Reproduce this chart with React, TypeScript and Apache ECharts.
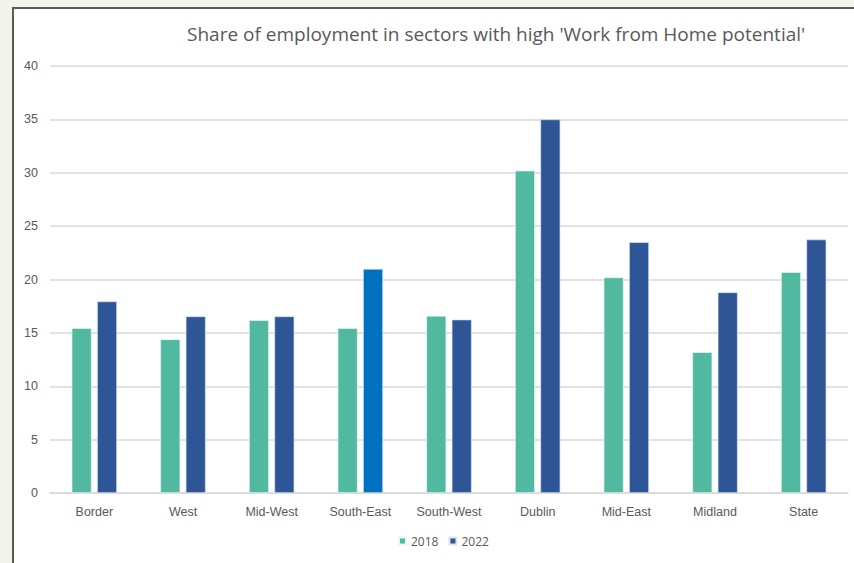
import React, { useEffect, useRef } from "react";
import * as echarts from "echarts";

const categories = ["Border", "West", "Mid-West", "South-East", "South-West", "Dublin", "Mid-East", "Midland", "State"];
const values2018 = [15.45, 14.4, 16.2, 15.45, 16.6, 30.2, 20.2, 13.2, 20.7];
const values2022 = [17.95, 16.55, 16.55, 21.0, 16.25, 35.0, 23.5, 18.8, 23.75];
const highlightIndex = 3;
const seriesNames = ["2018", "2022"];
const titleText = "Share of employment in sectors with high 'Work from Home potential'";

const FONT = "'Liberation Sans', sans-serif";
const TITLE_FONT = "'Open Sans', sans-serif";

export default function App() {
  const ref = useRef<HTMLDivElement>(null);
  useEffect(() => {
    if (!ref.current) return;
    const chart = echarts.init(ref.current, null, { renderer: "svg" });
    chart.setOption({
      animation: false,
      backgroundColor: "#ffffff",
      title: {
        text: titleText,
        left: 173,
        top: 15,
        padding: 0,
        textStyle: { fontFamily: TITLE_FONT, fontSize: 19, fontWeight: "normal", color: "#595959" },
      },
      legend: {
        data: seriesNames,
        left: 379,
        bottom: 11,
        itemWidth: 7,
        itemHeight: 7,
        itemGap: 10,
        icon: "rect",
        textStyle: { fontFamily: "'Open Sans', sans-serif", fontSize: 12, color: "#595959" },
      },
      grid: { left: 36, right: 6, top: 57, bottom: 70, containLabel: false },
      xAxis: {
        type: "category",
        data: categories,
        axisLine: { lineStyle: { color: "#d9d9d9", width: 1.5 } },
        axisTick: { show: false },
        axisLabel: { fontFamily: FONT, fontSize: 12.5, color: "#595959", margin: 12 },
      },
      yAxis: {
        type: "value",
        min: 0,
        max: 40,
        interval: 5,
        axisLine: { show: false },
        axisTick: { show: false },
        splitLine: { lineStyle: { color: "#d9d9d9", width: 1.5 } },
        axisLabel: { fontFamily: FONT, fontSize: 12.5, color: "#595959", margin: 12 },
      },
      series: [
        {
          name: seriesNames[0],
          type: "bar",
          data: values2018,
          barWidth: 20,
          barGap: "27%",
          itemStyle: { color: "#50b9a0", borderColor: "#e8f6f2", borderWidth: 0.7 },
        },
        {
          name: seriesNames[1],
          type: "bar",
          data: values2022.map((v, i) =>
            i === highlightIndex ? { value: v, itemStyle: { color: "#0070c0" } } : v
          ),
          barWidth: 20,
          itemStyle: { color: "#2e5596", borderColor: "#dde4f0", borderWidth: 0.7 },
        },
      ],
    });
    return () => chart.dispose();
  }, []);

  return (
    <div style={{ position: "fixed", left: 0, top: 0, width: 854, height: 563, background: "#f3f2eb", overflow: "hidden" }}>
      <div
        style={{
          position: "absolute",
          left: 12,
          top: 7,
          width: 842,
          height: 556,
          borderLeft: "2px solid #5d5b53",
          borderTop: "2px solid #5d5b53",
          background: "#ffffff",
        }}
      >
        <div ref={ref} style={{ width: 840, height: 554 }} />
      </div>
    </div>
  );
}
